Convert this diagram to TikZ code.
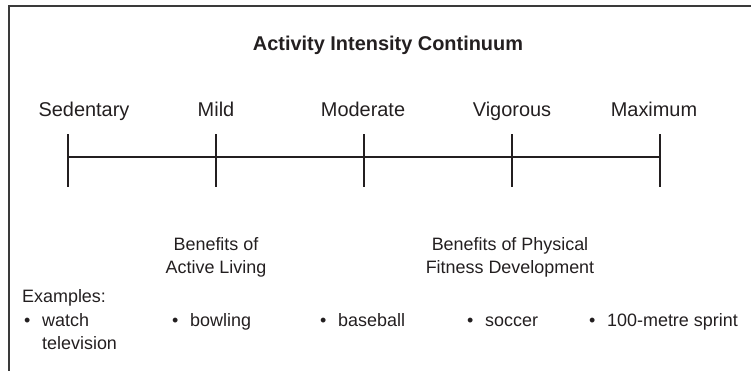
\documentclass[tikz,border=0pt]{standalone}
\usepackage{fontspec}
\setmainfont{Liberation Sans}
\definecolor{ink}{HTML}{231F20}
\definecolor{framecol}{HTML}{3A3A3A}
\begin{document}
\begin{tikzpicture}[x=1bp,y=-1bp,
  lbl/.style={anchor=base,inner sep=0pt,text=ink,font=\fontsize{20}{23}\selectfont},
  sml/.style={inner sep=0pt,text=ink,font=\fontsize{18}{23}\selectfont},
  smlw/.style={sml,anchor=base west},
  ttl/.style={anchor=base,inner sep=0pt,text=ink,font=\fontsize{20}{23}\selectfont\bfseries},
  scaleline/.style={draw=ink,line width=1.2bp},
  frm/.style={draw=framecol,line width=1.6bp}]
\useasboundingbox (0,0) rectangle (751,371);
% frame (top and left only)
\coordinate (ftr) at (751,6);
\coordinate (ftl) at (9,6);
\coordinate (fbl) at (9,371);
\draw[frm] (ftr) -- (ftl) -- (fbl);
% title
\node[ttl] (title) at (388,50) {Activity Intensity Continuum};
% level labels
\node[lbl] (sed) at (84,116) {Sedentary};
\node[lbl] (mil) at (216,116) {Mild};
\node[lbl] (mod) at (363,116) {Moderate};
\node[lbl] (vig) at (512,116) {Vigorous};
\node[lbl] (max) at (654,116) {Maximum};
% scale
\foreach \n/\x in {a/68,b/216,c/364,d/512,e/660}{
  \coordinate (t\n) at (\x,134);
  \coordinate (m\n) at (\x,157);
  \coordinate (b\n) at (\x,187);
  \draw[scaleline] (t\n) -- (b\n);
}
\draw[scaleline] (ma) -- (me);
% benefits (base anchor = last line)
\node[sml,align=center,anchor=base] (ben1) at (216,273) {Benefits of\\Active Living};
\node[sml,align=center,anchor=base] (ben2) at (510,273) {Benefits of Physical\\Fitness Development};
% examples
\node[smlw] (ex) at (22,302) {Examples:};
\node[smlw] (b1) at (24,326) {•};
\node[smlw,align=left] (e1) at (42,349) {watch\\television};
\node[smlw] (b2) at (172,326) {•};
\node[smlw] (e2) at (190,326) {bowling};
\node[smlw] (b3) at (320,326) {•};
\node[smlw] (e3) at (338,326) {baseball};
\node[smlw] (b4) at (467,326) {•};
\node[smlw] (e4) at (485,326) {soccer};
\node[smlw] (b5) at (589,326) {•};
\node[smlw] (e5) at (607,326) {100-metre sprint};
\end{tikzpicture}
\end{document}
